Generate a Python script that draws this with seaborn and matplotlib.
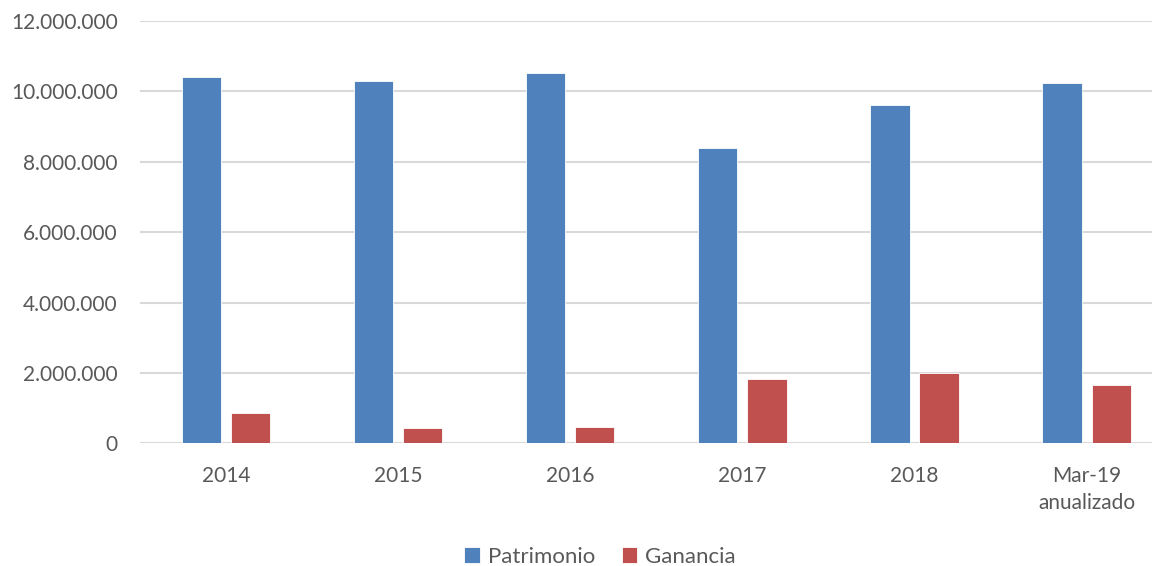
import numpy as np
import pandas as pd
import matplotlib
matplotlib.use("Agg")
import matplotlib.pyplot as plt
import seaborn as sns
from matplotlib.ticker import FuncFormatter

# Data
periodos = ["2014", "2015", "2016", "2017", "2018", "Mar-19\nanualizado"]
patrimonio = [10_410_000, 10_290_000, 10_520_000, 8_390_000, 9_600_000, 10_250_000]
ganancia = [860_000, 430_000, 470_000, 1_840_000, 2_010_000, 1_670_000]
series = ["Patrimonio", "Ganancia"]
colores = ["#4F81BD", "#C0504D"]

df = pd.DataFrame({
    "periodo": periodos * 2,
    "valor": patrimonio + ganancia,
    "serie": [series[0]] * len(periodos) + [series[1]] * len(periodos),
})

sns.set_theme(style="white")
plt.rcParams["font.family"] = ["Lato", "DejaVu Sans"]
texto = "#595959"

fig = plt.figure(figsize=(11.58, 5.66), dpi=100)
ax = fig.add_axes([140 / 1158, 1 - 443.3 / 566, 1012 / 1158, 422.3 / 566])

sns.barplot(data=df, x="periodo", y="valor", hue="serie", order=periodos,
            hue_order=series, palette=colores, width=0.57, gap=0.2,
            saturation=1, edgecolor="#ffffff", linewidth=0.6, ax=ax, zorder=3)

ax.set_ylim(0, 12_000_000)
ax.set_xlim(-0.5, 5.38)
ax.set_yticks(np.arange(0, 12_000_001, 2_000_000))
ax.yaxis.set_major_formatter(FuncFormatter(lambda v, _: f"{int(v):,}".replace(",", ".")))
ax.grid(axis="y", color="#d9d9d9", linewidth=1.5, zorder=0)
ax.grid(axis="x", visible=False)
for s in ax.spines.values():
    s.set_visible(False)
ax.tick_params(axis="both", length=0, labelsize=15, labelcolor=texto)
ax.tick_params(axis="y", pad=16)
ax.tick_params(axis="x", pad=16)
for lbl in ax.get_xticklabels():
    lbl.set_linespacing(1.45)
ax.set_xlabel("")
ax.set_ylabel("")

handles, labels = ax.get_legend_handles_labels()
ax.get_legend().remove()
fig.legend(handles, labels, loc="center", bbox_to_anchor=(600 / 1158, 1 - 557 / 566),
           ncol=2, frameon=False, fontsize=16, labelcolor=texto,
           handlelength=0.7, handleheight=0.7, handletextpad=0.35,
           columnspacing=1.2)

fig.savefig("out.png", dpi=100)
